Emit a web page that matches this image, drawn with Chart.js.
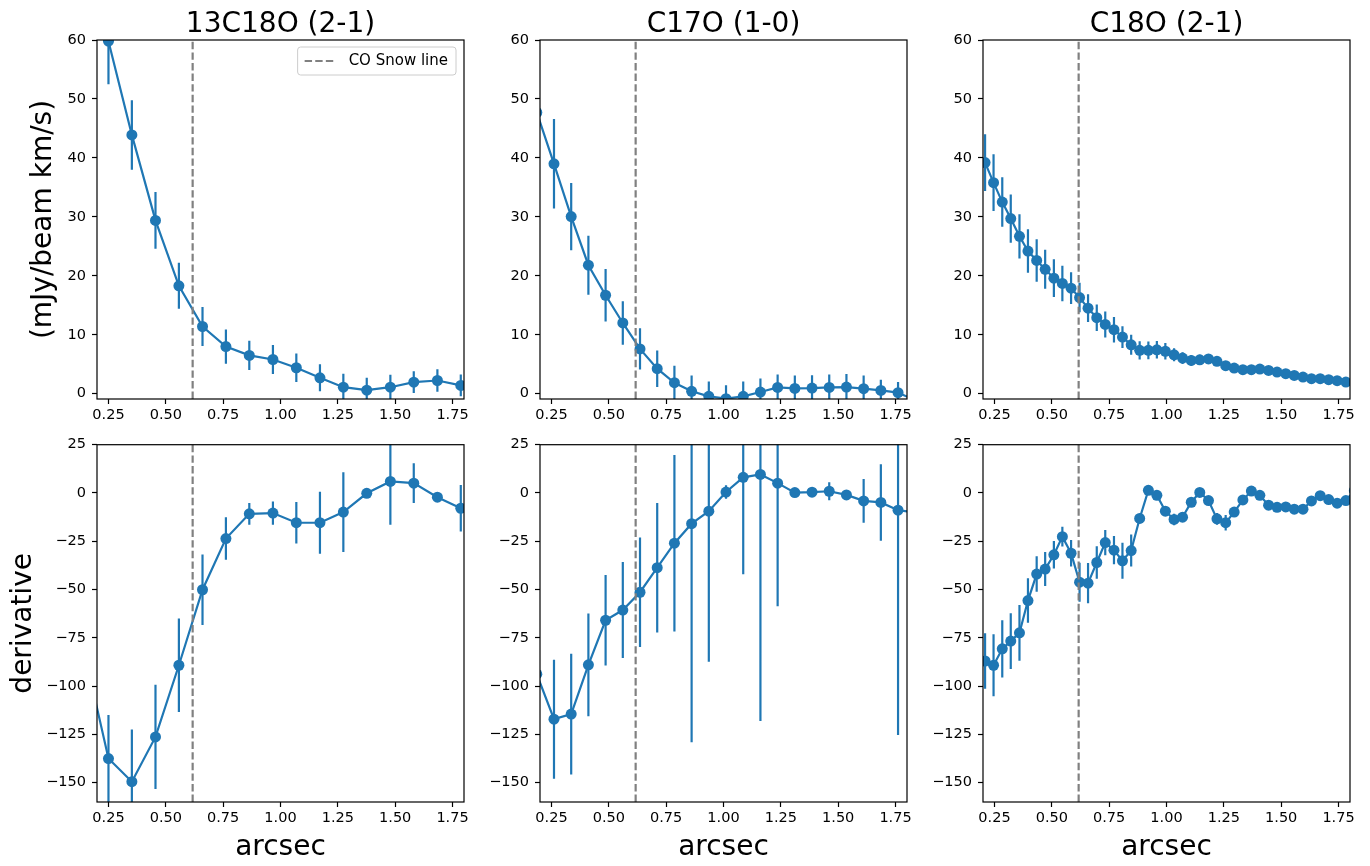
<!DOCTYPE html>
<html lang="en">
<head>
<meta charset="UTF-8">
<title>CO isotopologue radial profiles</title>
<style>
    body {
        margin: 0;
        background: #fff;
    }
    #fig {
        position: relative;
        width: 1370px;
        height: 866px;
    }
    #fig canvas {
        position: absolute;
    }
</style>
<script src="https://cdn.jsdelivr.net/npm/chart.js"></script>
</head>
<body>
<div id="fig">
    <canvas id="flux13c18o" width="484" height="429" style="left:0px;top:0px"></canvas>
    <canvas id="fluxC17o" width="439" height="429" style="left:488px;top:0px"></canvas>
    <canvas id="fluxC18o" width="439" height="429" style="left:931px;top:0px"></canvas>
    <canvas id="deriv13c18o" width="484" height="436" style="left:0px;top:430px"></canvas>
    <canvas id="derivC17o" width="439" height="436" style="left:488px;top:430px"></canvas>
    <canvas id="derivC18o" width="439" height="436" style="left:931px;top:430px"></canvas>
</div>
<script>
    // axis limits and tick labels
    const xRange = [0.2, 1.8];
    const fluxRange = [-0.9, 60];
    const derivRange = [-160, 25];
    const xTicks = [0.25, 0.5, 0.75, 1.0, 1.25, 1.5, 1.75];
    const fluxTicks = [0, 10, 20, 30, 40, 50, 60];
    const derivTicks = [25, 0, -25, -50, -75, -100, -125, -150];
    const snowLine = 0.617;

    // 13C18O (2-1)
    const r13c18o = [0.148, 0.250, 0.352, 0.455, 0.557, 0.660, 0.762, 0.864, 0.967, 1.069, 1.172, 1.274, 1.376, 1.479, 1.581, 1.684, 1.786];
    const flux13c18o = [null, 59.8, 43.9, 29.4, 18.3, 11.4, 8.0, 6.5, 5.8, 4.4, 2.7, 1.1, 0.6, 1.1, 1.96, 2.24, 1.4];
    const fluxErr13c18o = [0, 7.3, 5.9, 4.8, 3.9, 3.3, 2.9, 2.5, 2.45, 2.4, 2.3, 2.3, 2.1, 2.1, 1.85, 1.9, 1.85];
    const deriv13c18o = [-84, -137.5, -149.5, -126.3, -89.2, -50.1, -23.6, -10.8, -10.4, -15.4, -15.4, -9.9, -0.15, 6.0, 5.1, -2.2, -7.9];
    const derivErr13c18o = [20, 22.6, 27, 27, 24.2, 18.2, 11, 5.6, 6, 10.7, 16, 20.7, 1, 22.4, 10.3, 1.5, 12];

    // C17O (1-0)
    const rC17o = [0.186, 0.261, 0.336, 0.411, 0.486, 0.561, 0.636, 0.711, 0.786, 0.861, 0.936, 1.011, 1.086, 1.161, 1.236, 1.311, 1.386, 1.461, 1.536, 1.611, 1.686, 1.761, 1.836];
    const fluxC17o = [47.7, 39.0, 30.05, 21.8, 16.7, 12.0, 7.6, 4.24, 1.86, 0.4, -0.45, -0.85, -0.45, 0.28, 1.07, 0.9, 0.95, 1.07, 1.13, 0.85, 0.56, 0.17, -1.1];
    const fluxErrC17o = [7, 7.6, 5.7, 5.0, 4.45, 3.7, 3.5, 3.1, 2.9, 2.7, 2.5, 2.3, 2.5, 2.3, 2.2, 2.2, 2.2, 2.2, 2.2, 2.25, 1.8, 1.8, 1.8];
    const derivC17o = [-93.8, -117.1, -114.5, -89.0, -65.9, -60.6, -51.4, -38.7, -26.0, -15.9, -9.4, 0.5, 8.1, 9.6, 5.1, 0.2, 0.4, 0.9, -1.0, -4.1, -4.9, -8.9, -10];
    const derivErrC17o = [30, 30.8, 31.2, 26.6, 23.4, 24.9, 28.3, 33.5, 45.7, 113.2, 78, 3.5, 50.2, 127.7, 63.8, 1, 1, 4.6, 1, 11.3, 19.8, 116.4, 20];

    // C18O (2-1)
    const rC18o = [0.209, 0.246, 0.284, 0.321, 0.359, 0.396, 0.434, 0.471, 0.509, 0.546, 0.584, 0.621, 0.658, 0.696, 0.733,
        0.771, 0.808, 0.846, 0.883, 0.921, 0.958, 0.995, 1.033, 1.070, 1.108, 1.145, 1.183, 1.220, 1.258, 1.295,
        1.333, 1.370, 1.407, 1.445, 1.482, 1.520, 1.557, 1.595, 1.632, 1.670, 1.707, 1.744, 1.782, 1.819];
    const fluxC18o = [39.2, 35.8, 32.5, 29.7, 26.7, 24.2, 22.6, 21.1, 19.6, 18.7, 17.9, 16.3, 14.5, 12.9, 11.75,
        10.85, 9.6, 8.3, 7.35, 7.35, 7.45, 7.2, 6.6, 6.05, 5.65, 5.75, 5.9, 5.5, 4.75, 4.35,
        4.07, 4.07, 4.18, 3.95, 3.67, 3.39, 3.1, 2.82, 2.54, 2.54, 2.37, 2.2, 1.98, 1.85];
    const fluxErrC18o = [4.8, 4.8, 4.2, 4.1, 3.75, 3.7, 3.6, 3.3, 3.2, 3.0, 2.7, 2.5, 2.35, 2.25, 2.2,
        2.15, 1.85, 1.7, 1.55, 1.5, 1.5, 1.4, 1.1, 1.0, 0.9, 0.85, 0.8, 0.75, 0.7, 0.65,
        0.6, 0.6, 0.55, 0.55, 0.5, 0.5, 0.45, 0.45, 0.4, 0.4, 0.4, 0.35, 0.35, 0.35];
    const derivC18o = [-87.0, -89.2, -80.7, -76.7, -72.4, -55.7, -42.0, -39.4, -32.0, -22.6, -31.2, -46.2, -46.7, -36.0, -25.7,
        -29.6, -35.1, -29.8, -13.2, 1.4, -1.2, -9.4, -13.7, -12.5, -4.8, 0.3, -3.9, -13.4, -15.4, -9.9,
        -3.6, 1.0, -1.2, -6.3, -7.4, -7.2, -8.4, -8.4, -4.1, -1.4, -3.4, -5.3, -3.9, 1.2];
    const derivErrC18o = [14.4, 16, 14.8, 14.4, 14.4, 11.5, 9.2, 8.8, 7.1, 5.1, 6.8, 10.1, 10.4, 8.4, 6.5,
        7.3, 9.3, 8.3, 2.5, 1.5, 1.5, 2, 3, 2.5, 2, 1.5, 2, 3, 4, 2,
        1.5, 1.5, 1.5, 1.5, 1.5, 1.5, 1.5, 1.5, 1.5, 1.5, 1.5, 1.5, 1.5, 1.5];

    const blue = '#1f77b4';
    Chart.defaults.font.family = "'DejaVu Sans', sans-serif";
    Chart.defaults.font.size = 14.5;
    Chart.defaults.color = '#000';

    // vertical error bars, drawn under the markers
    const errorBars = {
        id: 'errorBars',
        beforeDatasetsDraw(chart) {
            const {ctx, chartArea: a, scales: {x, y}} = chart;
            ctx.save();
            ctx.beginPath();
            ctx.rect(a.left, a.top, a.width, a.height);
            ctx.clip();
            chart.data.datasets.forEach(ds => {
                if (!ds.errors) return;
                ctx.strokeStyle = ds.borderColor;
                ctx.lineWidth = 2.2;
                ctx.beginPath();
                ds.data.forEach((p, i) => {
                    if (p.y === null) return;
                    const px = x.getPixelForValue(p.x);
                    ctx.moveTo(px, y.getPixelForValue(p.y - ds.errors[i]));
                    ctx.lineTo(px, y.getPixelForValue(p.y + ds.errors[i]));
                });
                ctx.stroke();
            });
            ctx.restore();
        }
    };

    // box around the plot area
    const frame = {
        id: 'frame',
        afterDraw(chart) {
            const {ctx, chartArea: a} = chart;
            ctx.save();
            ctx.strokeStyle = '#000';
            ctx.lineWidth = 1.2;
            ctx.strokeRect(a.left, a.top, a.width, a.height);
            ctx.restore();
        }
    };

    // framed legend in the upper right corner, for the snow line only
    const snowLegend = {
        id: 'snowLegend',
        afterDraw(chart) {
            const ds = chart.data.datasets.find(d => d.label);
            const {ctx, chartArea: a} = chart;
            ctx.save();
            ctx.font = "15px 'DejaVu Sans'";
            const w = ctx.measureText(ds.label).width + 59;
            const h = 28;
            const bx = a.right - 8 - w;
            const by = a.top + 7;
            ctx.beginPath();
            ctx.roundRect(bx, by, w, h, 3);
            ctx.fillStyle = 'rgba(255,255,255,0.8)';
            ctx.fill();
            ctx.strokeStyle = '#cccccc';
            ctx.lineWidth = 1;
            ctx.stroke();
            ctx.setLineDash(ds.borderDash);
            ctx.strokeStyle = ds.borderColor;
            ctx.lineWidth = ds.borderWidth;
            ctx.beginPath();
            ctx.moveTo(bx + 7, by + h / 2);
            ctx.lineTo(bx + 38, by + h / 2);
            ctx.stroke();
            ctx.setLineDash([]);
            ctx.fillStyle = '#000';
            ctx.textBaseline = 'middle';
            ctx.fillText(ds.label, bx + 51, by + h / 2 + 0.5);
            ctx.restore();
        }
    };

    function minus(v) {
        return String(v).replace('-', '\u2212');
    }

    function panel(id, p) {
        const top = p.row === 0;
        const yRange = top ? fluxRange : derivRange;
        const yTicks = top ? fluxTicks : derivTicks;
        return new Chart(document.getElementById(id), {
            type: 'line',
            data: {
                datasets: [{
                    label: 'CO Snow line',
                    data: [{x: snowLine, y: yRange[0]}, {x: snowLine, y: yRange[1]}],
                    borderColor: 'gray',
                    borderDash: [7.4, 3.2],
                    borderWidth: 2.2,
                    pointRadius: 0,
                    clip: 0
                }, {
                    data: p.r.map((x, i) => ({x: x, y: p.vals[i]})),
                    errors: p.errs,
                    borderColor: blue,
                    backgroundColor: blue,
                    borderWidth: 2.2,
                    pointRadius: 5.5,
                    pointBorderWidth: 0,
                    pointBackgroundColor: blue,
                    clip: 0
                }]
            },
            options: {
                responsive: false,
                animation: false,
                events: [],
                layout: {padding: {top: top ? 0 : 12, right: 20}},
                plugins: {
                    legend: {display: false},
                    tooltip: {enabled: false},
                    title: {
                        display: !!p.title,
                        text: p.title,
                        fullSize: false,
                        color: '#000',
                        font: {size: 28, weight: 'normal', lineHeight: 1},
                        padding: {top: 10.3, bottom: 1.7}
                    }
                },
                scales: {
                    x: {
                        type: 'linear',
                        min: xRange[0],
                        max: xRange[1],
                        afterBuildTicks: s => { s.ticks = xTicks.map(v => ({value: v})); },
                        afterFit: s => { s.height = top ? 30 : 64; },
                        ticks: {padding: 3, maxRotation: 0, callback: v => v.toFixed(2)},
                        grid: {drawOnChartArea: false, tickLength: 5, tickColor: '#000', tickWidth: 1.2},
                        border: {display: false},
                        title: {
                            display: !top,
                            text: 'arcsec',
                            font: {size: 28},
                            padding: {top: 0, bottom: 1}
                        }
                    },
                    y: {
                        min: yRange[0],
                        max: yRange[1],
                        afterBuildTicks: s => { s.ticks = yTicks.map(v => ({value: v})); },
                        afterFit: s => { s.width = p.yTitle ? 97 : 52; },
                        ticks: {padding: 6, callback: v => minus(v)},
                        grid: {drawOnChartArea: false, tickLength: 5, tickColor: '#000', tickWidth: 1.2},
                        border: {display: false},
                        title: {
                            display: !!p.yTitle,
                            text: p.yTitle,
                            font: {size: 28},
                            padding: {top: top ? 27.2 : 6.5}
                        }
                    }
                }
            },
            plugins: [errorBars, frame].concat(p.legend ? [snowLegend] : [])
        });
    }

    panel('flux13c18o', {row: 0, title: '13C18O (2-1)', yTitle: '(mJy/beam km/s)', legend: true,
        r: r13c18o, vals: flux13c18o, errs: fluxErr13c18o});
    panel('fluxC17o', {row: 0, title: 'C17O (1-0)', r: rC17o, vals: fluxC17o, errs: fluxErrC17o});
    panel('fluxC18o', {row: 0, title: 'C18O (2-1)', r: rC18o, vals: fluxC18o, errs: fluxErrC18o});
    panel('deriv13c18o', {row: 1, yTitle: 'derivative', r: r13c18o, vals: deriv13c18o, errs: derivErr13c18o});
    panel('derivC17o', {row: 1, r: rC17o, vals: derivC17o, errs: derivErrC17o});
    panel('derivC18o', {row: 1, r: rC18o, vals: derivC18o, errs: derivErrC18o});
</script>
</body>
</html>
